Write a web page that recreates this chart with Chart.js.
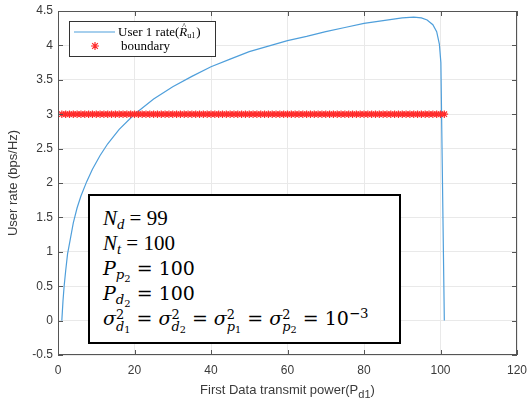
<!DOCTYPE html>
<html>
<head>
<meta charset="utf-8">
<script src="https://cdn.jsdelivr.net/npm/chart.js@4.4.1/dist/chart.umd.min.js"></script>
<style>
  html, body { margin: 0; padding: 0; background: #fff; }
  #wrap { position: relative; width: 530px; height: 404px; }
  #xtitle { position: absolute; left: 58px; width: 459px; top: 382px; text-align: center;
    font-family: "Liberation Sans", Arial, sans-serif; font-size: 13px; color: #3a3a3a; }
  #xtitle sub { font-size: 0.85em; vertical-align: -0.35em; line-height: 0; }
  #params { position: absolute; left: 88px; top: 194px; width: 313px; height: 150px;
    box-sizing: border-box; border: 2px solid #000; background: #fff; color: #000;
    font-family: "Liberation Serif", serif; font-size: 21px; padding: 10px 0 0 13px; }
  #params .row { height: 25px; line-height: 25px; white-space: nowrap; }
  #params .cm { font-family: "DejaVu Serif", serif; font-size: 19px; }
  #params sub, #params sup { font-size: 0.7em; line-height: 0; }
  #params sub { vertical-align: -0.3em; }
  #params sup { vertical-align: 0.55em; }
  #params sub sub { font-size: 0.75em; vertical-align: -0.3em; }
  .ss { display: inline-block; font-size: 0.68em; line-height: 0.95em; vertical-align: -0.5em; text-align: left; }
  .ss > span { display: block; }
  .ss sub { font-size: 0.75em !important; vertical-align: -0.2em !important; }
</style>
</head>
<body>
<div id="wrap">
  <canvas id="rateChart" width="530" height="404"></canvas>
  <div id="xtitle">First Data transmit power(P<sub>d1</sub>)</div>
  <div id="params">
    <div class="row"><i>N</i><sub><i>d</i></sub> = 99</div>
    <div class="row"><i>N</i><sub><i>t</i></sub> = 100</div>
    <div class="row cm"><i>P</i><sub><i>p</i><sub>2</sub></sub> = 100</div>
    <div class="row cm"><i>P</i><sub><i>d</i><sub>2</sub></sub> = 100</div>
    <div class="row cm"><i>σ</i><span class="ss"><span>2</span><span><i>d</i><sub>1</sub></span></span> = <i>σ</i><span class="ss"><span>2</span><span><i>d</i><sub>2</sub></span></span> = <i>σ</i><span class="ss"><span>2</span><span><i>p</i><sub>1</sub></span></span> = <i>σ</i><span class="ss"><span>2</span><span><i>p</i><sub>2</sub></span></span> = 10<sup>−3</sup></div>
  </div>
</div>
<script>
// data
const rateX = [1, 1.3, 1.6, 2, 2.5, 3, 4, 5, 6, 7.5, 9, 11, 13, 16, 20, 25, 30, 35, 40, 45, 50, 55, 60,
  65, 70, 75, 80, 85, 90, 93, 95, 96.5, 98, 99, 99.7, 100.1, 101];
const rateY = [0, 0.28, 0.5, 0.72, 0.97, 1.12, 1.42, 1.64, 1.81, 2.02, 2.2, 2.4, 2.57, 2.78, 3.0, 3.22, 3.4,
  3.55, 3.69, 3.8, 3.91, 3.99, 4.07, 4.13, 4.2, 4.26, 4.32, 4.36, 4.4, 4.41, 4.4, 4.37, 4.3, 4.2, 4.02, 3.75, 0];

const boundaryX = [1, 2, 3, 4, 5, 6, 7, 8, 9, 10, 11, 12, 13, 14, 15, 16, 17, 18, 19, 20,
  21, 22, 23, 24, 25, 26, 27, 28, 29, 30, 31, 32, 33, 34, 35, 36, 37, 38, 39, 40,
  41, 42, 43, 44, 45, 46, 47, 48, 49, 50, 51, 52, 53, 54, 55, 56, 57, 58, 59, 60,
  61, 62, 63, 64, 65, 66, 67, 68, 69, 70, 71, 72, 73, 74, 75, 76, 77, 78, 79, 80,
  81, 82, 83, 84, 85, 86, 87, 88, 89, 90, 91, 92, 93, 94, 95, 96, 97, 98, 99, 100, 101];
const boundaryLevel = 3;

const xTicks = [0, 20, 40, 60, 80, 100, 120];
const yTicks = [-0.5, 0, 0.5, 1, 1.5, 2, 2.5, 3, 3.5, 4, 4.5];

const axisColor = '#3a3a3a';

// frame, inward tick marks and the legend box (matlab look)
const matlabFrame = {
    id: 'matlabFrame',
    afterDatasetsDraw(chart) {
        const { ctx, chartArea: a, scales } = chart;
        ctx.save();
        ctx.strokeStyle = '#555';
        ctx.lineWidth = 1;
        ctx.strokeRect(a.left + 0.5, a.top + 0.5, a.right - a.left - 1, a.bottom - a.top - 1);
        ctx.beginPath();
        xTicks.forEach(v => {
            const px = Math.round(scales.x.getPixelForValue(v)) + 0.5;
            ctx.moveTo(px, a.bottom); ctx.lineTo(px, a.bottom - 5);
            ctx.moveTo(px, a.top); ctx.lineTo(px, a.top + 5);
        });
        yTicks.forEach(v => {
            const py = Math.round(scales.y.getPixelForValue(v)) + 0.5;
            ctx.moveTo(a.left, py); ctx.lineTo(a.left + 5, py);
            ctx.moveTo(a.right, py); ctx.lineTo(a.right - 5, py);
        });
        ctx.stroke();

        // legend
        const rate = chart.data.datasets[0], bnd = chart.data.datasets[1];
        const x0 = a.left + 11, y0 = a.top + 10, w = 146, h = 35;
        ctx.fillStyle = '#fff';
        ctx.fillRect(x0, y0, w, h);
        ctx.strokeStyle = '#333';
        ctx.strokeRect(x0 + 0.5, y0 + 0.5, w, h);

        ctx.strokeStyle = rate.borderColor;
        ctx.lineWidth = rate.borderWidth;
        ctx.beginPath();
        ctx.moveTo(x0 + 5, y0 + 11); ctx.lineTo(x0 + 46, y0 + 11);
        ctx.stroke();

        ctx.strokeStyle = bnd.borderColor;
        ctx.fillStyle = bnd.borderColor;
        Chart.helpers.drawPoint(ctx, { pointStyle: 'star', radius: 4, borderWidth: 1 }, x0 + 26, y0 + 25);

        ctx.fillStyle = '#000';
        ctx.textBaseline = 'alphabetic';
        let tx = x0 + 49;
        const base1 = y0 + 15;
        ctx.font = '13px "Liberation Serif"';
        ctx.fillText('User 1 rate(', tx, base1);
        tx += ctx.measureText('User 1 rate(').width;
        ctx.font = 'italic 13px "Liberation Serif"';
        ctx.fillText('R', tx, base1);
        const rw = ctx.measureText('R').width;
        ctx.font = '8px "Liberation Serif"';
        ctx.fillText('^', tx + rw / 2 - 1, base1 - 7);
        tx += rw;
        ctx.fillText('u1', tx, base1 + 2);
        tx += ctx.measureText('u1').width + 1;
        ctx.font = '13px "Liberation Serif"';
        ctx.fillText(')', tx, base1);

        ctx.fillText(bnd.label, x0 + 52, y0 + 29);
        ctx.restore();
    }
};

new Chart(document.getElementById('rateChart'), {
    type: 'scatter',
    data: {
        datasets: [
            {
                label: 'User 1 rate',
                data: rateX.map((x, i) => ({ x, y: rateY[i] })),
                showLine: true,
                borderColor: '#4f9fdb',
                borderWidth: 1.2,
                pointRadius: 0,
                tension: 0,
                order: 1
            },
            {
                label: 'boundary',
                data: boundaryX.map(x => ({ x, y: boundaryLevel })),
                showLine: false,
                pointStyle: 'star',
                pointRadius: 3.8,
                borderColor: '#ff2a2a',
                backgroundColor: '#ff2a2a',
                pointBorderWidth: 1.2,
                order: 0
            }
        ]
    },
    options: {
        responsive: false,
        animation: false,
        devicePixelRatio: 1,
        layout: { padding: { left: 0, top: 11, right: 13, bottom: 0 } },
        plugins: { legend: { display: false }, tooltip: { enabled: false } },
        scales: {
            x: {
                type: 'linear', min: 0, max: 120,
                afterBuildTicks: s => { s.ticks = xTicks.map(v => ({ value: v })); },
                afterFit: s => { s.height = 49; s.paddingRight = 0; s.paddingLeft = 0; },
                grid: { color: '#e9e9e9', drawTicks: false },
                border: { display: false },
                ticks: { padding: 8, color: axisColor, font: { family: 'Liberation Sans', size: 12 },
                    callback: v => String(v) }
            },
            y: {
                type: 'linear', min: -0.5, max: 4.5,
                afterBuildTicks: s => { s.ticks = yTicks.map(v => ({ value: v })); },
                afterFit: s => { s.width = 58; s.paddingTop = 0; s.paddingBottom = 0; },
                grid: { color: '#e9e9e9', drawTicks: false },
                border: { display: false },
                ticks: { padding: 5, color: axisColor, font: { family: 'Liberation Sans', size: 12 },
                    callback: v => String(v) },
                title: {
                    display: true, text: 'User rate (bps/Hz)', color: axisColor,
                    font: { family: 'Liberation Sans', size: 13 }, padding: { top: 6, bottom: 0 }
                }
            }
        }
    },
    plugins: [matlabFrame]
});
</script>
</body>
</html>
